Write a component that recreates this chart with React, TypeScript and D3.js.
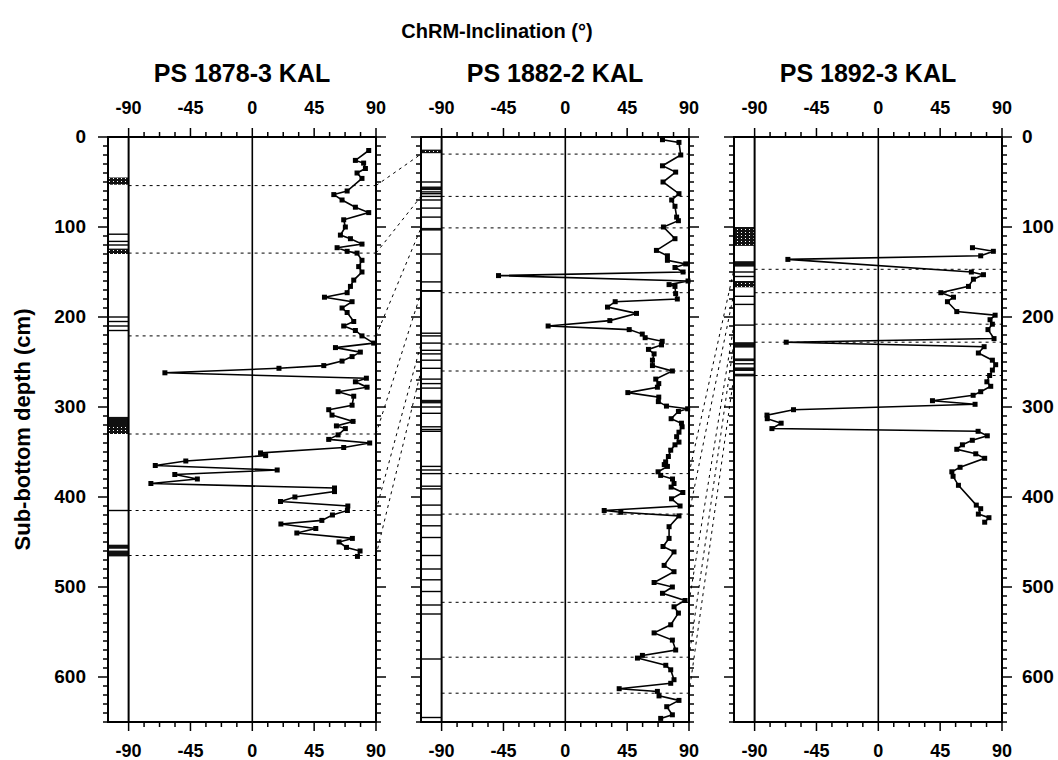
import { useEffect, useRef } from "react";
import * as d3 from "d3";

// ---- data ----
const coreNames = ["PS 1878-3 KAL", "PS 1882-2 KAL", "PS 1892-3 KAL"];

const depth1 = [15, 26, 29, 35, 40, 46, 60, 64, 70, 78, 84, 92, 100, 109, 113, 119, 123, 127, 129, 137, 144, 150, 159, 166, 173, 178, 183, 190, 195, 205, 210, 215, 221, 229, 234, 239, 244, 249, 254, 257, 262, 268, 272, 278, 283, 288, 298, 303, 309, 316, 321, 324, 331, 336, 340, 345, 351, 354, 360, 365, 370, 375, 380, 385, 390, 394, 400, 405, 410, 415, 420, 426, 430, 435, 440, 446, 450, 456, 460, 466];
const inc1 = [84.7, 75, 81, 82.3, 76.2, 79.8, 69, 59.3, 65.3, 75, 84.7, 66.5, 67.7, 64.1, 71.4, 79.8, 61.7, 69, 76.2, 79.8, 77.4, 79.8, 73.8, 71.4, 69, 52.5, 72.6, 65.3, 69, 73.8, 66.5, 75, 79.8, 88.3, 60.5, 78.6, 72.6, 65.3, 52, 19.4, -63.6, 83, 75, 83.5, 62.4, 73.8, 72.6, 55.6, 58, 73.3, 61.2, 67.7, 62.4, 55.6, 85.4, 66.5, 6, 9.7, -48.4, -70.6, 18.1, -56.4, -40, -73.8, 59.8, 59.8, 31, 20.5, 69.5, 69.2, 58.3, 50.6, 20.8, 46.2, 32.4, 72.8, 63.1, 68.5, 78.4, 76.5];

const depth2 = [3, 6, 20, 32, 39, 50, 63, 70, 77, 89, 93, 100, 113, 126, 132, 137, 141, 145, 150, 154, 160, 164, 166, 174, 180, 183, 189, 196, 204, 210, 214, 219, 223, 227, 231, 236, 241, 248, 254, 260, 269, 274, 278, 284, 289, 294, 299, 302, 305, 313, 318, 322, 328, 333, 339, 342, 348, 355, 361, 364, 366, 372, 376, 380, 385, 389, 395, 402, 410, 415, 417, 421, 433, 446, 455, 461, 476, 483, 495, 500, 507, 515, 522, 529, 542, 551, 559, 570, 576, 579, 587, 592, 603, 607, 613, 616, 621, 626, 633, 642, 646];
const inc2 = [70.7, 82.7, 84, 70.7, 80.3, 71.1, 82.7, 77.4, 79.8, 81, 82.3, 71.4, 79.8, 66.3, 74.3, 74.3, 87.6, 79.8, 85.7, -48.6, 89.3, 75.5, 79.8, 80.3, 81.5, 36.3, 30.7, 51.8, 32.4, -12.5, 46.5, 56, 58.1, 70.5, 70, 60.5, 64.6, 63.4, 63.4, 77.9, 65.8, 68, 67, 45.5, 68, 67.7, 73.6, 89, 82.3, 77, 84.5, 85, 82.7, 81, 82.7, 79.8, 76.7, 75, 73, 72, 74.3, 67.5, 69.4, 78, 79.1, 77, 85.5, 77.3, 83.5, 28.3, 40.4, 82.7, 75.5, 75.5, 71.1, 79.1, 71.9, 79.1, 64.6, 77.9, 70.7, 87.1, 79.1, 82.3, 76.7, 64.6, 77.9, 80.3, 56.1, 52.5, 73.1, 76.7, 79.1, 76.7, 39.2, 67, 68.2, 82.7, 73.8, 77.9, 69.4];

const depth3 = [123, 127, 132, 136, 150, 153, 158, 166, 173, 178, 183, 194, 198, 203, 208, 214, 224, 228, 233, 240, 248, 253, 259, 265, 272, 277, 283, 287, 293, 297, 303, 309, 313, 318, 324, 327, 332, 337, 342, 347, 352, 357, 367, 372, 377, 387, 409, 413, 419, 423, 428];
const inc3 = [68.5, 83.7, 74.5, -65.8, 67.7, 76.5, 69.2, 65.6, 45.5, 54.7, 50.3, 57.1, 85, 81.3, 83, 79.8, 84.2, -67, 77, 72.8, 83, 85.4, 83, 81, 79, 81.8, 74.5, 69, 39.4, 70.4, -61.7, -81, -80.8, -70.7, -77.4, 72.6, 79.3, 68.4, 61.2, 57.1, 70.9, 77.4, 59.5, 53.5, 54.4, 58.3, 71.3, 74.5, 72.8, 80.5, 77.4];

// tie points (dotted horizontals) and core-to-core correlations
const ties1 = [54, 129, 221, 330, 415, 465];
const ties2 = [19, 66, 101, 173, 230, 260, 374, 419, 517, 578, 618];
const ties3 = [147, 173, 208, 228, 265];
const link12From = [54, 129, 221, 330, 415, 465];
const link12To = [19, 66, 101, 173, 230, 260];
const link23From = [374, 419, 517, 578, 618];
const link23To = [147, 173, 208, 228, 265];

// lithology column: thin lines, black bands, speckled bands (depth in cm)
const lithLines1 = [108, 116, 120, 200, 205, 210, 215, 415];
const lithBlack1 = [[311, 320], [453, 457.5], [459.5, 466]];
const lithSpeck1 = [[45, 53], [124, 130], [320, 330]];

const lithLines2 = [50, 61, 63, 66, 70, 79, 89, 130, 161, 171, 218, 221, 229, 237, 241, 248, 257, 269, 274, 279, 300, 307, 322, 325, 327, 366, 370, 374, 388, 391, 409, 420, 432, 445, 465, 480, 492, 505, 520, 530, 580, 645];
const lithBlack2 = [[55, 59], [101, 104], [170, 172], [292, 296]];
const lithSpeck2 = [[14, 18]];

const lithLines3 = [150, 155, 177, 186, 209, 252];
const lithBlack3 = [[138, 144], [228, 234], [246, 249], [256, 260], [263, 266]];
const lithSpeck3 = [[100, 121], [160, 167]];

const incMajor = [-90, -45, 0, 45, 90];
const depthMajor = [0, 100, 200, 300, 400, 500, 600];

const cores = [
  { name: coreNames[0], depth: depth1, inc: inc1, ties: ties1, lines: lithLines1, black: lithBlack1, speck: lithSpeck1 },
  { name: coreNames[1], depth: depth2, inc: inc2, ties: ties2, lines: lithLines2, black: lithBlack2, speck: lithSpeck2 },
  { name: coreNames[2], depth: depth3, inc: inc3, ties: ties3, lines: lithLines3, black: lithBlack3, speck: lithSpeck3 },
];

const width = 1058;
const height = 760;
const font = "'Liberation Sans', Arial, Helvetica, sans-serif";

export default function App() {
  const ref = useRef<SVGSVGElement | null>(null);

  useEffect(() => {
    const svg = d3.select(ref.current);
    svg.selectAll("*").remove();

    const panelLefts = [108, 421, 734];
    const panelW = 268;
    const yScale = d3.scaleLinear().domain([0, 650]).range([137, 722]);
    const xScales = panelLefts.map(l => d3.scaleLinear().domain([-105, 90]).range([l, l + panelW]));

    // speckle pattern for the sandy layers
    const defs = svg.append("defs");
    const pat = defs.append("pattern")
      .attr("id", "speck").attr("width", 4).attr("height", 3)
      .attr("patternUnits", "userSpaceOnUse");
    pat.append("rect").attr("width", 4).attr("height", 3).attr("fill", "#111");
    pat.append("rect").attr("x", 1).attr("y", 1).attr("width", 1).attr("height", 1).attr("fill", "#fff");

    const minorDepth = d3.range(0, 651, 10);
    const minorInc = d3.range(-90, 90.01, 11.25);

    // correlation lines between cores
    const links = svg.append("g").attr("fill", "none").attr("stroke", "#000")
      .attr("stroke-width", 1).attr("stroke-dasharray", "3,4");
    link12From.forEach((d, i) => {
      links.append("line")
        .attr("x1", xScales[0](90)).attr("y1", yScale(d))
        .attr("x2", xScales[1](-105)).attr("y2", yScale(link12To[i]));
    });
    link23From.forEach((d, i) => {
      links.append("line")
        .attr("x1", xScales[1](90)).attr("y1", yScale(d))
        .attr("x2", xScales[2](-105)).attr("y2", yScale(link23To[i]));
    });

    cores.forEach((core, ci) => {
      const x = xScales[ci];
      const g = svg.append("g");
      const top = yScale(0), bot = yScale(650);

      // lithology
      core.black.forEach(b => {
        g.append("rect").attr("x", x(-105)).attr("width", x(-90) - x(-105))
          .attr("y", yScale(b[0])).attr("height", yScale(b[1]) - yScale(b[0])).attr("fill", "#111");
      });
      core.speck.forEach(b => {
        g.append("rect").attr("x", x(-105)).attr("width", x(-90) - x(-105))
          .attr("y", yScale(b[0])).attr("height", yScale(b[1]) - yScale(b[0])).attr("fill", "url(#speck)");
      });
      core.lines.forEach(d => {
        g.append("line").attr("x1", x(-105)).attr("x2", x(-90))
          .attr("y1", yScale(d)).attr("y2", yScale(d)).attr("stroke", "#000").attr("stroke-width", 1.4);
      });

      // tie lines
      core.ties.forEach(d => {
        g.append("line").attr("x1", x(-90)).attr("x2", x(90))
          .attr("y1", yScale(d)).attr("y2", yScale(d))
          .attr("stroke", "#000").attr("stroke-width", 1).attr("stroke-dasharray", "3,4");
      });

      // vertical reference lines
      g.append("line").attr("x1", x(0)).attr("x2", x(0)).attr("y1", top).attr("y2", bot)
        .attr("stroke", "#000").attr("stroke-width", 1.6);
      g.append("line").attr("x1", x(-90)).attr("x2", x(-90)).attr("y1", top).attr("y2", bot)
        .attr("stroke", "#000").attr("stroke-width", 2);

      // frame
      g.append("rect").attr("x", x(-105)).attr("y", top)
        .attr("width", x(90) - x(-105)).attr("height", bot - top)
        .attr("fill", "none").attr("stroke", "#000").attr("stroke-width", 2);

      // depth ticks (outward on both sides)
      minorDepth.forEach(d => {
        const major = d % 100 === 0;
        const len = major ? 10 : 5;
        g.append("line").attr("x1", x(-105) - len).attr("x2", x(-105))
          .attr("y1", yScale(d)).attr("y2", yScale(d)).attr("stroke", "#000").attr("stroke-width", 1.5);
        g.append("line").attr("x1", x(90)).attr("x2", x(90) + len)
          .attr("y1", yScale(d)).attr("y2", yScale(d)).attr("stroke", "#000").attr("stroke-width", 1.5);
      });

      // inclination ticks top and bottom
      minorInc.forEach(v => {
        const major = v % 45 === 0;
        const len = major ? 9 : 5;
        g.append("line").attr("x1", x(v)).attr("x2", x(v))
          .attr("y1", top - len).attr("y2", top).attr("stroke", "#000").attr("stroke-width", 1.5);
        g.append("line").attr("x1", x(v)).attr("x2", x(v))
          .attr("y1", bot).attr("y2", bot + len).attr("stroke", "#000").attr("stroke-width", 1.5);
      });

      incMajor.forEach(v => {
        g.append("text").attr("x", x(v)).attr("y", 114).attr("text-anchor", "middle")
          .attr("font-family", font).attr("font-weight", "bold").attr("font-size", 18).text(v);
        g.append("text").attr("x", x(v)).attr("y", 757).attr("text-anchor", "middle")
          .attr("font-family", font).attr("font-weight", "bold").attr("font-size", 18).text(v);
      });

      // title
      g.append("text").attr("x", (x(-105) + x(90)) / 2).attr("y", 82).attr("text-anchor", "middle")
        .attr("font-family", font).attr("font-weight", "bold").attr("font-size", 25).text(core.name);

      // data
      const pts = core.depth.map((d, i) => [core.inc[i], d] as [number, number]);
      const line = d3.line<[number, number]>().x(p => x(p[0])).y(p => yScale(p[1]));
      g.append("path").attr("d", line(pts)).attr("fill", "none")
        .attr("stroke", "#000").attr("stroke-width", 1.6);
      g.selectAll("rect.pt").data(pts).join("rect").attr("class", "pt")
        .attr("x", p => x(p[0]) - 2.5).attr("y", p => yScale(p[1]) - 2.5)
        .attr("width", 5).attr("height", 5).attr("fill", "#000");
    });

    // depth labels
    depthMajor.forEach(d => {
      svg.append("text").attr("x", 86).attr("y", yScale(d) + 6).attr("text-anchor", "end")
        .attr("font-family", font).attr("font-weight", "bold").attr("font-size", 19).text(d);
      svg.append("text").attr("x", 1022).attr("y", yScale(d) + 6).attr("text-anchor", "start")
        .attr("font-family", font).attr("font-weight", "bold").attr("font-size", 19).text(d);
    });

    svg.append("text").attr("transform", `translate(30, ${yScale(325)}) rotate(-90)`)
      .attr("text-anchor", "middle").attr("font-family", font).attr("font-weight", "bold")
      .attr("font-size", 22).text("Sub-bottom depth (cm)");

    svg.append("text").attr("x", 497).attr("y", 38).attr("text-anchor", "middle")
      .attr("font-family", font).attr("font-weight", "bold").attr("font-size", 20)
      .text("ChRM-Inclination (°)");
  }, []);

  return (
    <svg ref={ref} width={width} height={height}
      style={{ position: "absolute", left: 0, top: 0, background: "#fff" }} />
  );
}
